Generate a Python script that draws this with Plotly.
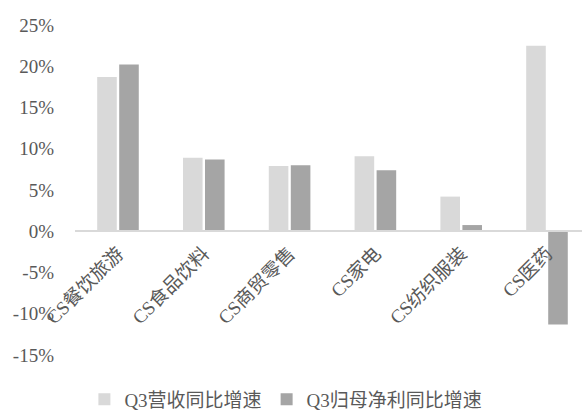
import plotly.graph_objects as go

categories = ["CS餐饮旅游", "CS食品饮料", "CS商贸零售", "CS家电", "CS纺织服装", "CS医药"]
revenue_growth = [0.187, 0.089, 0.079, 0.091, 0.042, 0.225]
profit_growth = [0.202, 0.087, 0.080, 0.074, 0.0075, -0.113]
series_names = ["Q3营收同比增速", "Q3归母净利同比增速"]
ytick_vals = [-0.15, -0.10, -0.05, 0.0, 0.05, 0.10, 0.15, 0.20, 0.25]
ytick_text = ["-15%", "-10%", "-5%", "0%", "5%", "10%", "15%", "20%", "25%"]

FONT = "Liberation Serif, 'Times New Roman', 'Noto Sans CJK SC', serif"
GREY = "#595959"

fig = go.Figure()
fig.add_trace(go.Bar(x=categories, y=revenue_growth, name=series_names[0],
                     marker=dict(color="#D9D9D9", line=dict(width=0))))
fig.add_trace(go.Bar(x=categories, y=profit_growth, name=series_names[1],
                     marker=dict(color="#A5A5A5", line=dict(width=0))))

fig.update_layout(
    width=582, height=414,
    margin=dict(l=75, r=0, t=25, b=59),
    paper_bgcolor="white", plot_bgcolor="white",
    barmode="group", bargap=0.487, bargroupgap=0.11,
    font=dict(family=FONT, size=19, color=GREY),
    showlegend=True,
    legend=dict(orientation="h", xref="container", yref="container",
                x=0.145, y=0.035, xanchor="left", yanchor="middle",
                font=dict(family=FONT, size=19, color=GREY),
                itemwidth=30, tracegroupgap=0, bgcolor="rgba(0,0,0,0)"),
    xaxis=dict(range=[-0.501, 5.408], anchor="free", position=0.375,
               showline=True, linecolor="#D9D9D9", linewidth=1.5,
               showgrid=False, zeroline=False, ticks="", tickangle=-45,
               ticklabelstandoff=3,
               tickfont=dict(family=FONT, size=19, color=GREY),
               automargin=False, fixedrange=True),
    yaxis=dict(range=[-0.15, 0.25], tickvals=ytick_vals, ticktext=ytick_text,
               showline=False, showgrid=False, zeroline=False, ticks="",
               ticklabelstandoff=20,
               tickfont=dict(family=FONT, size=19, color=GREY),
               automargin=False, fixedrange=True),
)

fig.write_html("out.html")
